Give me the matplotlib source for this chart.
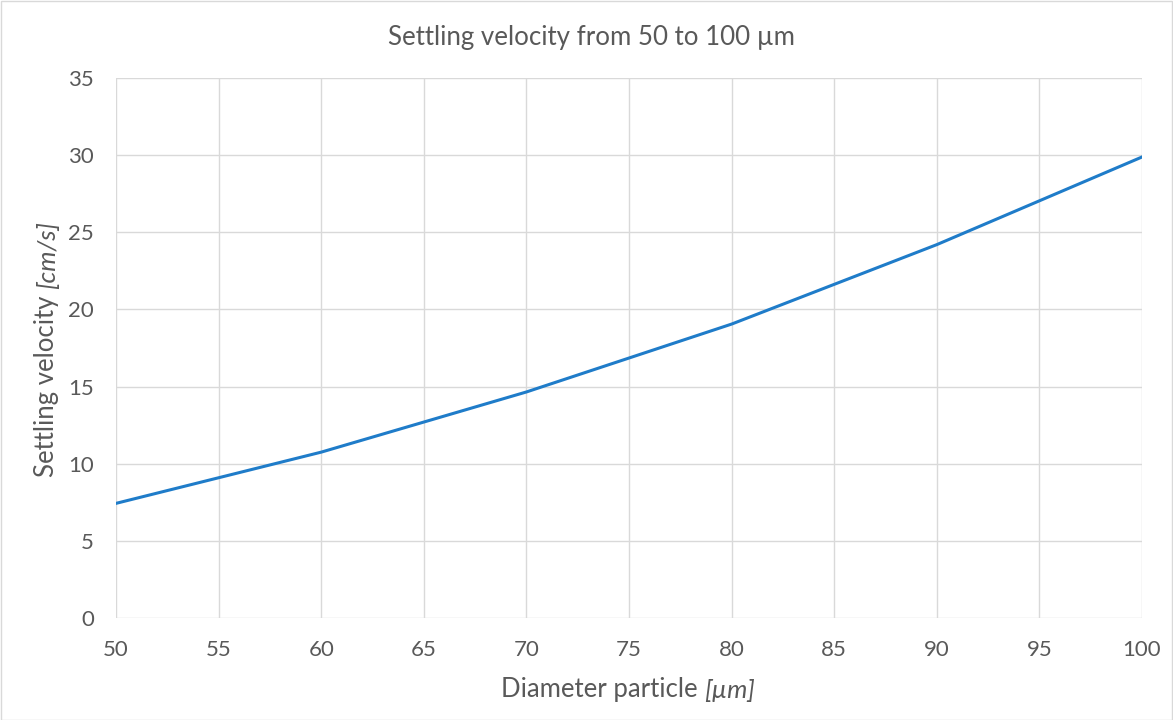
import matplotlib
matplotlib.use("Agg")
import matplotlib.pyplot as plt
from matplotlib.patches import Rectangle

# Settling velocity of particles vs diameter
diameter_um = [50, 60, 70, 80, 90, 100]
velocity_cms = [7.43, 10.75, 14.65, 19.05, 24.2, 29.88]
x_ticks = list(range(50, 101, 5))
y_ticks = list(range(0, 36, 5))

plt.rcParams['font.family'] = ['Lato', 'DejaVu Sans']

text_color = '#595959'
grid_color = '#d9d9d9'
line_color = '#1f7cc9'

W, H = 1173, 720
fig = plt.figure(figsize=(W / 100, H / 100), dpi=100)
ax = fig.add_axes([116 / W, 1 - 618 / H, (1142 - 116) / W, (618 - 78) / H])

ax.plot(diameter_um, velocity_cms, color=line_color, linewidth=2.2, solid_joinstyle='round')

ax.set_xlim(50, 100)
ax.set_ylim(0, 35)
ax.set_xticks(x_ticks)
ax.set_yticks(y_ticks)
ax.grid(True, color=grid_color, linewidth=1.0)
ax.set_axisbelow(True)
for s in ax.spines.values():
    s.set_visible(False)
ax.tick_params(length=0, labelsize=16, colors=text_color, pad=16)

label_size = 18.5

# x axis label: plain part followed by italic unit
fig.canvas.draw()
xl1 = fig.text(0, 1 - 690 / H, 'Diameter particle ', fontsize=label_size,
               color=text_color, va='center', ha='left')
xl2 = ax.annotate('[µm]', xy=(1, 0), xycoords=xl1, ha='left', va='bottom',
                  fontsize=label_size, color=text_color, style='italic')
r = fig.canvas.get_renderer()
w_total = xl1.get_window_extent(r).width + xl2.get_window_extent(r).width
xl1.set_x((628 - w_total / 2) / W)

# y axis label, rotated
yl1 = fig.text(47 / W, 0, 'Settling velocity ', fontsize=label_size, color=text_color,
               rotation=90, ha='center', va='bottom')
yl2 = ax.annotate('[cm/s]', xy=(1, 1), xycoords=yl1, ha='right', va='bottom',
                  fontsize=label_size, color=text_color, style='italic', rotation=90)
h_total = yl1.get_window_extent(r).height + yl2.get_window_extent(r).height
yl1.set_y(1 - (349 + h_total / 2) / H)

fig.text(591 / W, 1 - 38 / H, 'Settling velocity from 50 to 100 µm',
         ha='center', va='center', fontsize=18.6, color=text_color)

fig.patches.append(Rectangle((0.5 / W, 0.5 / H), 1 - 1.5 / W, 1 - 1.5 / H,
                             transform=fig.transFigure, fill=False,
                             edgecolor=grid_color, linewidth=1.0))

fig.savefig('out.png', dpi=100)
